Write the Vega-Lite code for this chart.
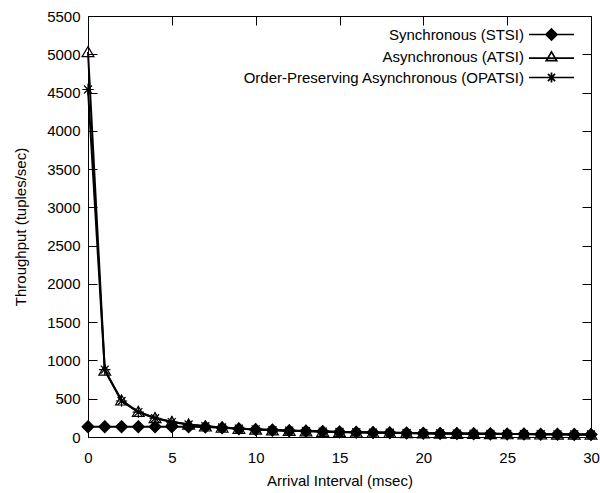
{
  "$schema": "https://vega.github.io/schema/vega-lite/v6.json",
  "width": 503,
  "height": 421,
  "autosize": {"type": "none"},
  "padding": {"left": 88, "top": 16, "right": 9, "bottom": 56},
  "config": {
    "font": "Liberation Sans",
    "view": {"stroke": "black", "strokeWidth": 1},
    "axis": {
      "grid": false,
      "domain": false,
      "tickColor": "black",
      "tickSize": -9,
      "tickWidth": 1,
      "labelFontSize": 15,
      "titleFontSize": 15,
      "titleFontWeight": "normal",
      "labelColor": "black",
      "titleColor": "black",
      "labelOverlap": false,
      "labelFlush": false,
      "format": "d"
    }
  },
  "datasets": {
    "perf": [
      {"series": "Synchronous (STSI)", "x": 0, "y": 135},
      {"series": "Synchronous (STSI)", "x": 1, "y": 135},
      {"series": "Synchronous (STSI)", "x": 2, "y": 135},
      {"series": "Synchronous (STSI)", "x": 3, "y": 135},
      {"series": "Synchronous (STSI)", "x": 4, "y": 135},
      {"series": "Synchronous (STSI)", "x": 5, "y": 135},
      {"series": "Synchronous (STSI)", "x": 6, "y": 135},
      {"series": "Synchronous (STSI)", "x": 7, "y": 130},
      {"series": "Synchronous (STSI)", "x": 8, "y": 120},
      {"series": "Synchronous (STSI)", "x": 9, "y": 108},
      {"series": "Synchronous (STSI)", "x": 10, "y": 98},
      {"series": "Synchronous (STSI)", "x": 11, "y": 90},
      {"series": "Synchronous (STSI)", "x": 12, "y": 83},
      {"series": "Synchronous (STSI)", "x": 13, "y": 77},
      {"series": "Synchronous (STSI)", "x": 14, "y": 71},
      {"series": "Synchronous (STSI)", "x": 15, "y": 66},
      {"series": "Synchronous (STSI)", "x": 16, "y": 62},
      {"series": "Synchronous (STSI)", "x": 17, "y": 58},
      {"series": "Synchronous (STSI)", "x": 18, "y": 55},
      {"series": "Synchronous (STSI)", "x": 19, "y": 52},
      {"series": "Synchronous (STSI)", "x": 20, "y": 49},
      {"series": "Synchronous (STSI)", "x": 21, "y": 47},
      {"series": "Synchronous (STSI)", "x": 22, "y": 45},
      {"series": "Synchronous (STSI)", "x": 23, "y": 43},
      {"series": "Synchronous (STSI)", "x": 24, "y": 41},
      {"series": "Synchronous (STSI)", "x": 25, "y": 39},
      {"series": "Synchronous (STSI)", "x": 26, "y": 38},
      {"series": "Synchronous (STSI)", "x": 27, "y": 36},
      {"series": "Synchronous (STSI)", "x": 28, "y": 35},
      {"series": "Synchronous (STSI)", "x": 29, "y": 34},
      {"series": "Synchronous (STSI)", "x": 30, "y": 33},
      {"series": "Asynchronous (ATSI)", "x": 0, "y": 5030},
      {"series": "Asynchronous (ATSI)", "x": 1, "y": 870},
      {"series": "Asynchronous (ATSI)", "x": 2, "y": 480},
      {"series": "Asynchronous (ATSI)", "x": 3, "y": 330},
      {"series": "Asynchronous (ATSI)", "x": 4, "y": 250},
      {"series": "Asynchronous (ATSI)", "x": 5, "y": 200},
      {"series": "Asynchronous (ATSI)", "x": 6, "y": 165},
      {"series": "Asynchronous (ATSI)", "x": 7, "y": 140},
      {"series": "Asynchronous (ATSI)", "x": 8, "y": 124},
      {"series": "Asynchronous (ATSI)", "x": 9, "y": 110},
      {"series": "Asynchronous (ATSI)", "x": 10, "y": 99},
      {"series": "Asynchronous (ATSI)", "x": 11, "y": 90},
      {"series": "Asynchronous (ATSI)", "x": 12, "y": 83},
      {"series": "Asynchronous (ATSI)", "x": 13, "y": 77},
      {"series": "Asynchronous (ATSI)", "x": 14, "y": 71},
      {"series": "Asynchronous (ATSI)", "x": 15, "y": 66},
      {"series": "Asynchronous (ATSI)", "x": 16, "y": 62},
      {"series": "Asynchronous (ATSI)", "x": 17, "y": 58},
      {"series": "Asynchronous (ATSI)", "x": 18, "y": 55},
      {"series": "Asynchronous (ATSI)", "x": 19, "y": 52},
      {"series": "Asynchronous (ATSI)", "x": 20, "y": 49},
      {"series": "Asynchronous (ATSI)", "x": 21, "y": 47},
      {"series": "Asynchronous (ATSI)", "x": 22, "y": 45},
      {"series": "Asynchronous (ATSI)", "x": 23, "y": 43},
      {"series": "Asynchronous (ATSI)", "x": 24, "y": 41},
      {"series": "Asynchronous (ATSI)", "x": 25, "y": 39},
      {"series": "Asynchronous (ATSI)", "x": 26, "y": 38},
      {"series": "Asynchronous (ATSI)", "x": 27, "y": 36},
      {"series": "Asynchronous (ATSI)", "x": 28, "y": 35},
      {"series": "Asynchronous (ATSI)", "x": 29, "y": 34},
      {"series": "Asynchronous (ATSI)", "x": 30, "y": 33},
      {"series": "Order-Preserving Asynchronous (OPATSI)", "x": 0, "y": 4540},
      {"series": "Order-Preserving Asynchronous (OPATSI)", "x": 1, "y": 880},
      {"series": "Order-Preserving Asynchronous (OPATSI)", "x": 2, "y": 470},
      {"series": "Order-Preserving Asynchronous (OPATSI)", "x": 3, "y": 325},
      {"series": "Order-Preserving Asynchronous (OPATSI)", "x": 4, "y": 245},
      {"series": "Order-Preserving Asynchronous (OPATSI)", "x": 5, "y": 195},
      {"series": "Order-Preserving Asynchronous (OPATSI)", "x": 6, "y": 163},
      {"series": "Order-Preserving Asynchronous (OPATSI)", "x": 7, "y": 140},
      {"series": "Order-Preserving Asynchronous (OPATSI)", "x": 8, "y": 124},
      {"series": "Order-Preserving Asynchronous (OPATSI)", "x": 9, "y": 110},
      {"series": "Order-Preserving Asynchronous (OPATSI)", "x": 10, "y": 99},
      {"series": "Order-Preserving Asynchronous (OPATSI)", "x": 11, "y": 90},
      {"series": "Order-Preserving Asynchronous (OPATSI)", "x": 12, "y": 83},
      {"series": "Order-Preserving Asynchronous (OPATSI)", "x": 13, "y": 77},
      {"series": "Order-Preserving Asynchronous (OPATSI)", "x": 14, "y": 71},
      {"series": "Order-Preserving Asynchronous (OPATSI)", "x": 15, "y": 66},
      {"series": "Order-Preserving Asynchronous (OPATSI)", "x": 16, "y": 62},
      {"series": "Order-Preserving Asynchronous (OPATSI)", "x": 17, "y": 58},
      {"series": "Order-Preserving Asynchronous (OPATSI)", "x": 18, "y": 55},
      {"series": "Order-Preserving Asynchronous (OPATSI)", "x": 19, "y": 52},
      {"series": "Order-Preserving Asynchronous (OPATSI)", "x": 20, "y": 49},
      {"series": "Order-Preserving Asynchronous (OPATSI)", "x": 21, "y": 47},
      {"series": "Order-Preserving Asynchronous (OPATSI)", "x": 22, "y": 45},
      {"series": "Order-Preserving Asynchronous (OPATSI)", "x": 23, "y": 43},
      {"series": "Order-Preserving Asynchronous (OPATSI)", "x": 24, "y": 41},
      {"series": "Order-Preserving Asynchronous (OPATSI)", "x": 25, "y": 39},
      {"series": "Order-Preserving Asynchronous (OPATSI)", "x": 26, "y": 38},
      {"series": "Order-Preserving Asynchronous (OPATSI)", "x": 27, "y": 36},
      {"series": "Order-Preserving Asynchronous (OPATSI)", "x": 28, "y": 35},
      {"series": "Order-Preserving Asynchronous (OPATSI)", "x": 29, "y": 34},
      {"series": "Order-Preserving Asynchronous (OPATSI)", "x": 30, "y": 33}
    ]
  },
  "data": {"name": "perf"},
  "layer": [
    {
      "encoding": {
        "x": {"field": "x", "type": "quantitative", "scale": {"domain": [0, 30], "nice": false},
          "axis": {"orient": "bottom", "values": [0, 5, 10, 15, 20, 25, 30], "title": "Arrival Interval (msec)", "labelPadding": 22, "titlePadding": 8}},
        "y": {"field": "y", "type": "quantitative", "scale": {"domain": [0, 5500], "nice": false},
          "axis": {"orient": "left", "values": [0, 500, 1000, 1500, 2000, 2500, 3000, 3500, 4000, 4500, 5000, 5500], "title": "Throughput (tuples/sec)", "labelPadding": 17, "titlePadding": 18}}
      },
      "layer": [
        {
          "mark": {"type": "line", "color": "black", "strokeWidth": 2},
          "encoding": {
            "detail": {"field": "series", "type": "nominal"}
          }
        },
        {
          "transform": [{"filter": "datum.series === 'Synchronous (STSI)'"}],
          "mark": {"type": "point", "shape": "M0,-1L1,0L0,1L-1,0Z", "filled": true, "fill": "black", "stroke": "black", "opacity": 1, "strokeWidth": 1.2, "size": 140}
        },
        {
          "transform": [{"filter": "datum.series === 'Asynchronous (ATSI)'"}],
          "mark": {"type": "point", "shape": "M0,-0.9L1,0.8L-1,0.8Z", "filled": false, "fill": "transparent", "stroke": "black", "opacity": 1, "strokeWidth": 1.2, "size": 140}
        },
        {
          "transform": [{"filter": "datum.series === 'Order-Preserving Asynchronous (OPATSI)'"}],
          "mark": {"type": "point", "shape": "M-1,0L1,0M0,-1L0,1M-0.7,-0.7L0.7,0.7M-0.7,0.7L0.7,-0.7", "filled": false, "fill": "transparent", "stroke": "black", "opacity": 1, "strokeWidth": 1.2, "size": 130}
        },
        {
          "mark": {"type": "point", "opacity": 0, "color": "black", "strokeWidth": 1.7},
          "encoding": {
            "shape": {
              "field": "series", "type": "nominal",
              "scale": {
                "domain": ["Synchronous (STSI)", "Asynchronous (ATSI)", "Order-Preserving Asynchronous (OPATSI)"],
                "range": [
                  "M-4.1,0L4.1,0M0,-1L1,0L0,1L-1,0ZM0,-0.72L0.72,0L0,0.72L-0.72,0ZM0,-0.44L0.44,0L0,0.44L-0.44,0ZM0,-0.16L0.16,0L0,0.16L-0.16,0Z",
                  "M-4.1,0.3L4.1,0.3M0,-0.85L0.95,0.75L-0.95,0.75Z",
                  "M-4.1,0L4.1,0M0,-0.9L0,0.9M-0.65,-0.65L0.65,0.65M-0.65,0.65L0.65,-0.65"
                ]
              },
              "legend": {
                "title": null,
                "orient": "none",
                "legendX": 456,
                "legendY": 11,
                "labelFontSize": 15,
                "labelColor": "black",
                "labelAlign": "right",
                "labelOffset": -35,
                "labelLimit": 400,
                "symbolSize": 121,
                "symbolOpacity": 1,
                "symbolStrokeColor": "black",
                "symbolStrokeWidth": 1.7,
                "rowPadding": 4
              }
            }
          }
        }
      ]
    },
    {
      "mark": {"type": "point", "opacity": 0},
      "encoding": {
        "x": {"field": "x", "type": "quantitative",
          "axis": {"orient": "top", "values": [0, 5, 10, 15, 20, 25, 30], "labels": false, "title": null}},
        "y": {"field": "y", "type": "quantitative",
          "axis": {"orient": "right", "values": [0, 500, 1000, 1500, 2000, 2500, 3000, 3500, 4000, 4500, 5000, 5500], "labels": false, "title": null}}
      }
    }
  ],
  "resolve": {"axis": {"x": "independent", "y": "independent"}}
}
